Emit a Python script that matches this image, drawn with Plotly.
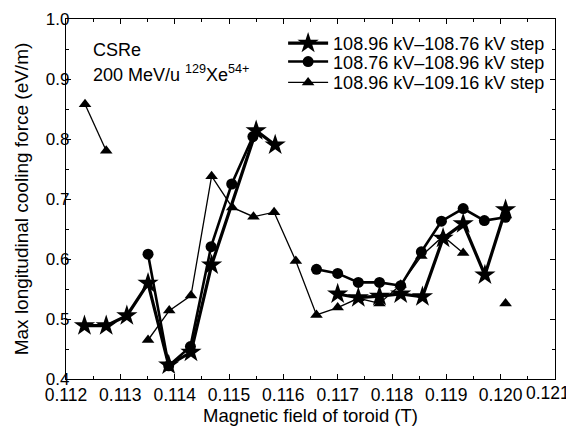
import plotly.graph_objects as go

# Series 1: 108.96 kV–108.76 kV step (stars)
star_x = [0.11234, 0.11274, 0.11312, 0.11351, 0.11389, 0.11430, 0.11468, 0.11550, 0.11585, None,
          0.11700, 0.11738, 0.11777, 0.11816, 0.11856, 0.11894, 0.11931, 0.11971, 0.12009]
star_y = [0.489, 0.489, 0.5055, 0.5595, 0.4233, 0.4445, 0.590, 0.814, 0.790, None,
          0.5417, 0.5355, 0.538, 0.5417, 0.537, 0.6345, 0.659, 0.5733, 0.682]

# Series 2: 108.76 kV–108.96 kV step (circles)
circ_x = [0.11351, 0.11389, 0.11429, 0.11467, 0.11505, 0.11544, None,
          0.11661, 0.11700, 0.11738, 0.11777, 0.11816, 0.11854, 0.11891, 0.11931, 0.11970, 0.12009]
circ_y = [0.608, 0.422, 0.454, 0.6205, 0.725, 0.804, None,
          0.5828, 0.576, 0.561, 0.561, 0.5555, 0.612, 0.663, 0.684, 0.664, 0.6695]

# Series 3: 108.96 kV–109.16 kV step (triangles)
tri_x = [0.11235, 0.11274, None, 0.11351, 0.11390, 0.11430, 0.11468, 0.11506, 0.11545, 0.11583,
         0.11623, 0.11661, 0.11700, 0.11738, 0.11777, 0.11816, 0.11854, 0.11894, 0.11931, None, 0.12009]
tri_y = [0.858, 0.7805, None, 0.465, 0.514, 0.539, 0.738, 0.686, 0.6705, 0.678,
         0.5967, 0.5067, 0.519, 0.5345, 0.526, 0.557, 0.605, 0.638, 0.610, None, 0.526]

names = ["108.96 kV\u2013108.76 kV step", "108.76 kV\u2013108.96 kV step", "108.96 kV\u2013109.16 kV step"]

x_tickvals = [0.112, 0.113, 0.114, 0.115, 0.116, 0.117, 0.118, 0.119, 0.120, 0.121]
x_ticktext = ["0.112", "0.113", "0.114", "0.115", "0.116", "0.117", "0.118", "0.119", "0.120", ""]
x_last_label = "0.121"

FONT = "Arial, Liberation Sans, sans-serif"

fig = go.Figure()
fig.add_trace(go.Scatter(x=star_x, y=star_y, name=names[0], mode="lines+markers", legend="legend",
                         line=dict(color="black", width=3.2),
                         marker=dict(symbol="star", size=16, color="black"), connectgaps=False))
fig.add_trace(go.Scatter(x=circ_x, y=circ_y, name=names[1], mode="lines+markers", legend="legend2",
                         line=dict(color="black", width=2.6),
                         marker=dict(symbol="circle", size=11, color="black"), connectgaps=False))
fig.add_trace(go.Scatter(x=tri_x, y=tri_y, name=names[2], mode="lines+markers", legend="legend3",
                         line=dict(color="black", width=1.3),
                         marker=dict(symbol="triangle-up", size=11, color="black"), connectgaps=False))

axis_common = dict(showline=True, linecolor="black", linewidth=1.3, mirror="allticks",
                   ticks="inside", ticklen=5, tickwidth=1, tickcolor="black",
                   showgrid=False, zeroline=False, automargin=False)

fig.update_xaxes(range=[0.112, 0.121], tickvals=x_tickvals, ticktext=x_ticktext,
                 tickfont=dict(family=FONT, size=17.5, color="black"),
                 minor=dict(ticks="inside", ticklen=3, tickwidth=1, tickcolor="black", dtick=0.0005, tick0=0.112),
                 title=dict(text="Magnetic field of toroid (T)", font=dict(family=FONT, size=18.5, color="black"), standoff=3),
                 **axis_common)
fig.update_yaxes(range=[0.4, 1.0], dtick=0.1, tick0=0.4, tickformat=".1f",
                 tickfont=dict(family=FONT, size=17, color="black"), ticklabelstandoff=-8,
                 minor=dict(ticks="inside", ticklen=3, tickwidth=1, tickcolor="black", dtick=0.05, tick0=0.4),
                 title=dict(text="Max longitudinal cooling force (eV/m)", font=dict(family=FONT, size=19, color="black"), standoff=12),
                 **axis_common)

# label of the last x tick, kept inside the page
fig.add_annotation(x=1.0, y=0, xref="paper", yref="paper", xanchor="right", yanchor="top",
                   xshift=17, yshift=-2, text=x_last_label, showarrow=False,
                   font=dict(family=FONT, size=17.5, color="black"))

fig.add_annotation(x=0.052, y=0.915, xref="paper", yref="paper", xanchor="left", yanchor="middle",
                   text="CSRe", showarrow=False, font=dict(family=FONT, size=18, color="black"))
fig.add_annotation(x=0.052, y=0.85, xref="paper", yref="paper", xanchor="left", yanchor="middle",
                   text="200 MeV/u <sup>129</sup>Xe<sup>54+</sup>", showarrow=False,
                   font=dict(family=FONT, size=18, color="black"))

legend_style = dict(x=0.99, xanchor="right", yanchor="middle", bgcolor="rgba(0,0,0,0)",
                    font=dict(family=FONT, size=18, color="black"), itemwidth=40,
                    borderwidth=0)

fig.update_layout(
    width=574, height=431,
    margin=dict(l=58, r=27, t=11, b=60),
    plot_bgcolor="white", paper_bgcolor="white",
    font=dict(family=FONT, color="black"),
    showlegend=True,
    legend=dict(y=0.932, **legend_style),
    legend2=dict(y=0.881, **legend_style),
    legend3=dict(y=0.823, **legend_style),
)

fig.write_html("out.html")
